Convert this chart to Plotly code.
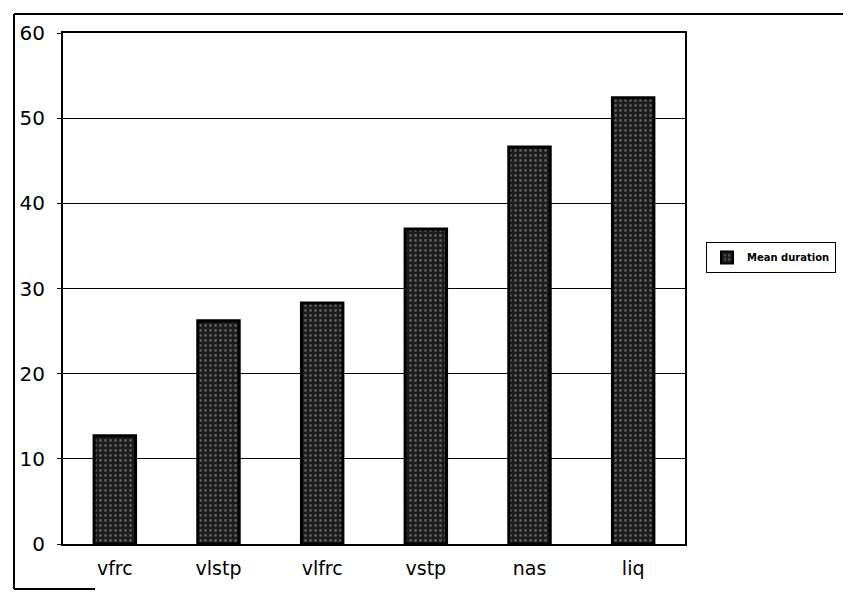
import plotly.graph_objects as go

categories = ["vfrc", "vlstp", "vlfrc", "vstp", "nas", "liq"]
mean_duration = [12.7, 26.2, 28.3, 37.0, 46.6, 52.4]
y_ticks = [0, 10, 20, 30, 40, 50, 60]

fig = go.Figure()
fig.add_trace(go.Bar(
    x=categories, y=mean_duration, name="Mean duration",
    width=0.4,
    marker=dict(
        color="#1c1c1c",
        line=dict(color="black", width=3),
        pattern=dict(shape=".", fgcolor="#9a9a9a", bgcolor="#1c1c1c", size=5, solidity=0.25),
    ),
))

# page offset of 8px (body margin) is compensated here
OFF = 8
W, H = 851 - OFF, 592 - OFF
L, R, T, B = 63 - OFF, 166, 33 - OFF, 48
pw, ph = W - L - R, H - T - B

def px(x):
    return (x - OFF - L) / pw

def py(y):
    return (H - B - (y - OFF)) / ph

line = dict(color="black", width=2)
fig.add_shape(type="line", xref="paper", yref="paper", x0=px(14), x1=px(851), y0=py(14), y1=py(14), line=line)
fig.add_shape(type="line", xref="paper", yref="paper", x0=px(14), x1=px(14), y0=py(14), y1=py(589), line=line)
fig.add_shape(type="line", xref="paper", yref="paper", x0=px(14), x1=px(95), y0=py(589), y1=py(589), line=line)

fig.update_layout(
    width=W, height=H,
    margin=dict(l=L, r=R, t=T, b=B, autoexpand=False),
    paper_bgcolor="white", plot_bgcolor="white",
    font=dict(family="DejaVu Sans, Verdana, sans-serif", color="black"),
    showlegend=True,
    legend=dict(
        xref="container", yref="container",
        x=(706 - OFF) / W, y=1 - (242 - OFF) / H, xanchor="left", yanchor="top",
        bordercolor="black", borderwidth=1,
        font=dict(size=10, color="black", weight="bold"),
        itemsizing="constant", itemwidth=30,
        tracegroupgap=0,
    ),
    xaxis=dict(
        showline=True, linecolor="black", linewidth=2, mirror=True,
        tickfont=dict(size=19), ticks="", ticklabelstandoff=6,
    ),
    yaxis=dict(
        range=[0, 60], tickvals=y_ticks,
        showline=True, linecolor="black", linewidth=2, mirror=True,
        showgrid=True, gridcolor="black", gridwidth=1,
        zeroline=False,
        ticks="outside", ticklen=4, tickcolor="black",
        tickfont=dict(size=20), ticklabelstandoff=8,
    ),
    bargap=0.6,
)

fig.write_html("out.html")
